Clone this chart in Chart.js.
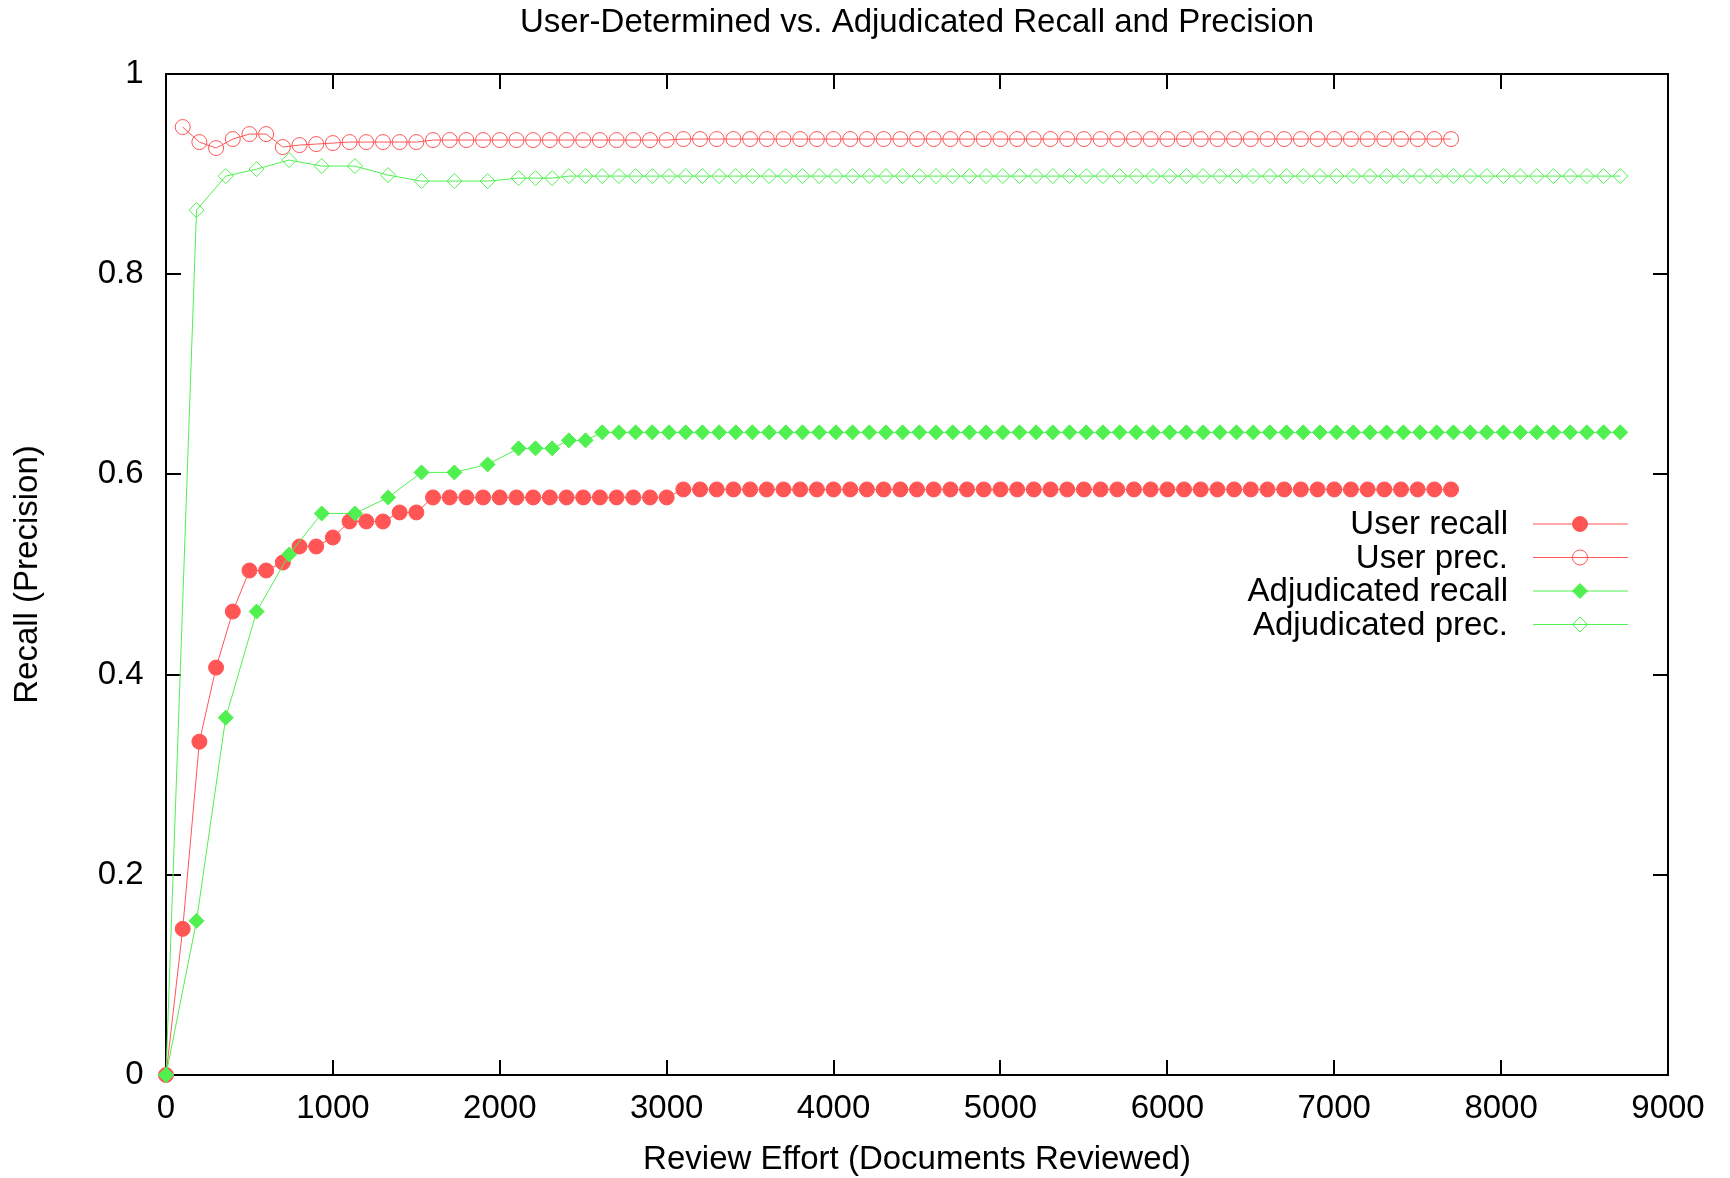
<!DOCTYPE html>
<html>
<head>
<meta charset="utf-8">
<title>User-Determined vs. Adjudicated Recall and Precision</title>
<script src="https://cdn.jsdelivr.net/npm/chart.js@4.4.1/dist/chart.umd.min.js"></script>
<style>
  html, body { margin: 0; padding: 0; background: #fff; }
  canvas { display: block; }
</style>
</head>
<body>
<canvas id="recall-chart" width="1730" height="1178"></canvas>
<script>
// documents reviewed at each user checkpoint
const userX = [
  0, 100, 200, 300, 400, 500, 600, 700, 800, 900,
  1000, 1100, 1200, 1300, 1400, 1500, 1600, 1700, 1800, 1900,
  2000, 2100, 2200, 2300, 2400, 2500, 2600, 2700, 2800, 2900,
  3000, 3100, 3200, 3300, 3400, 3500, 3600, 3700, 3800, 3900,
  4000, 4100, 4200, 4300, 4400, 4500, 4600, 4700, 4800, 4900,
  5000, 5100, 5200, 5300, 5400, 5500, 5600, 5700, 5800, 5900,
  6000, 6100, 6200, 6300, 6400, 6500, 6600, 6700, 6800, 6900,
  7000, 7100, 7200, 7300, 7400, 7500, 7600, 7700
];
const userRecall = [
  0, 0.146, 0.333, 0.407, 0.463, 0.504, 0.504, 0.512, 0.528, 0.528,
  0.537, 0.553, 0.553, 0.553, 0.562, 0.562, 0.577, 0.577, 0.577, 0.577,
  0.577, 0.577, 0.577, 0.577, 0.577, 0.577, 0.577, 0.577, 0.577, 0.577,
  0.577, 0.585, 0.585, 0.585, 0.585, 0.585, 0.585, 0.585, 0.585, 0.585,
  0.585, 0.585, 0.585, 0.585, 0.585, 0.585, 0.585, 0.585, 0.585, 0.585,
  0.585, 0.585, 0.585, 0.585, 0.585, 0.585, 0.585, 0.585, 0.585, 0.585,
  0.585, 0.585, 0.585, 0.585, 0.585, 0.585, 0.585, 0.585, 0.585, 0.585,
  0.585, 0.585, 0.585, 0.585, 0.585, 0.585, 0.585, 0.585
];
// no precision before the first document is reviewed
const userPrec = [
  null, 0.947, 0.932, 0.926, 0.935, 0.940, 0.940, 0.927, 0.929, 0.930,
  0.931, 0.932, 0.932, 0.932, 0.932, 0.932, 0.934, 0.934, 0.934, 0.934,
  0.934, 0.934, 0.934, 0.934, 0.934, 0.934, 0.934, 0.934, 0.934, 0.934,
  0.934, 0.935, 0.935, 0.935, 0.935, 0.935, 0.935, 0.935, 0.935, 0.935,
  0.935, 0.935, 0.935, 0.935, 0.935, 0.935, 0.935, 0.935, 0.935, 0.935,
  0.935, 0.935, 0.935, 0.935, 0.935, 0.935, 0.935, 0.935, 0.935, 0.935,
  0.935, 0.935, 0.935, 0.935, 0.935, 0.935, 0.935, 0.935, 0.935, 0.935,
  0.935, 0.935, 0.935, 0.935, 0.935, 0.935, 0.935, 0.935
];

// documents reviewed at each adjudicated checkpoint
const adjX = [
  0, 183, 358, 543, 738, 933, 1132, 1331, 1531, 1728,
  1927, 2113, 2214, 2314, 2414, 2514, 2614, 2714, 2814, 2914,
  3014, 3114, 3214, 3314, 3414, 3514, 3614, 3714, 3814, 3914,
  4014, 4114, 4214, 4314, 4414, 4514, 4614, 4714, 4814, 4914,
  5014, 5114, 5214, 5314, 5414, 5514, 5614, 5714, 5814, 5914,
  6014, 6114, 6214, 6314, 6414, 6514, 6614, 6714, 6814, 6914,
  7014, 7114, 7214, 7314, 7414, 7514, 7614, 7714, 7814, 7914,
  8014, 8114, 8214, 8314, 8414, 8514, 8614, 8714
];
const adjRecall = [
  0, 0.154, 0.357, 0.463, 0.520, 0.561, 0.561, 0.577, 0.602, 0.602,
  0.610, 0.626, 0.626, 0.626, 0.634, 0.634, 0.642, 0.642, 0.642, 0.642,
  0.642, 0.642, 0.642, 0.642, 0.642, 0.642, 0.642, 0.642, 0.642, 0.642,
  0.642, 0.642, 0.642, 0.642, 0.642, 0.642, 0.642, 0.642, 0.642, 0.642,
  0.642, 0.642, 0.642, 0.642, 0.642, 0.642, 0.642, 0.642, 0.642, 0.642,
  0.642, 0.642, 0.642, 0.642, 0.642, 0.642, 0.642, 0.642, 0.642, 0.642,
  0.642, 0.642, 0.642, 0.642, 0.642, 0.642, 0.642, 0.642, 0.642, 0.642,
  0.642, 0.642, 0.642, 0.642, 0.642, 0.642, 0.642, 0.642
];
const adjPrec = [
  0, 0.864, 0.898, 0.905, 0.914, 0.908, 0.908, 0.899, 0.893, 0.893,
  0.893, 0.896, 0.896, 0.896, 0.898, 0.898, 0.898, 0.898, 0.898, 0.898,
  0.898, 0.898, 0.898, 0.898, 0.898, 0.898, 0.898, 0.898, 0.898, 0.898,
  0.898, 0.898, 0.898, 0.898, 0.898, 0.898, 0.898, 0.898, 0.898, 0.898,
  0.898, 0.898, 0.898, 0.898, 0.898, 0.898, 0.898, 0.898, 0.898, 0.898,
  0.898, 0.898, 0.898, 0.898, 0.898, 0.898, 0.898, 0.898, 0.898, 0.898,
  0.898, 0.898, 0.898, 0.898, 0.898, 0.898, 0.898, 0.898, 0.898, 0.898,
  0.898, 0.898, 0.898, 0.898, 0.898, 0.898, 0.898, 0.898
];

const RED = '#ff5555';
const GREEN = '#50f050';
const FONT = '"Liberation Sans", Arial, Helvetica, sans-serif';
const FONT_SIZE = 33;

function points(xs, ys) {
  return xs.map((x, i) => ({ x: x, y: ys[i] })).filter(p => p.y !== null);
}

function series(label, xs, ys, color, style, filled, order) {
  return {
    label: label,
    data: points(xs, ys),
    borderColor: color,
    borderWidth: 1,
    pointStyle: style,
    pointRadius: 7.5,
    pointBorderWidth: 1,
    pointBorderColor: color,
    pointBackgroundColor: filled ? color : 'transparent',
    tension: 0,
    clip: false,
    order: order,
  };
}

// gnuplot-style key, drawn inside the plot area
const keyInside = {
  id: 'keyInside',
  afterDatasetsDraw(chart) {
    const { ctx, chartArea } = chart;
    const textRight = chartArea.right - 160;
    const lineStart = chartArea.right - 135;
    const lineEnd = chartArea.right - 40;
    const markX = chartArea.right - 88;
    let y = chartArea.top + 450;
    ctx.save();
    ctx.font = FONT_SIZE + 'px ' + FONT;
    ctx.textAlign = 'right';
    ctx.textBaseline = 'middle';
    chart.data.datasets.forEach(ds => {
      ctx.fillStyle = '#000';
      ctx.fillText(ds.label, textRight, y + 1);
      ctx.strokeStyle = ds.borderColor;
      ctx.lineWidth = 1;
      ctx.beginPath();
      ctx.moveTo(lineStart, y);
      ctx.lineTo(lineEnd, y);
      ctx.stroke();
      const r = ds.pointRadius;
      ctx.beginPath();
      if (ds.pointStyle === 'circle') {
        ctx.arc(markX, y, r, 0, Math.PI * 2);
      } else {
        ctx.moveTo(markX - r, y);
        ctx.lineTo(markX, y - r);
        ctx.lineTo(markX + r, y);
        ctx.lineTo(markX, y + r);
        ctx.closePath();
      }
      if (ds.pointBackgroundColor !== 'transparent') {
        ctx.fillStyle = ds.pointBackgroundColor;
        ctx.fill();
      }
      ctx.stroke();
      y += 33.5;
    });
    ctx.restore();
  }
};

// ticks point inward on all four sides of the frame
const frameGrid = {
  display: true,
  drawOnChartArea: false,
  drawTicks: true,
  tickLength: -15,
  color: '#000',
  lineWidth: 2,
};
const frameBorder = { display: true, color: '#000', width: 2 };

const ctx = document.getElementById('recall-chart');

new Chart(ctx, {
  type: 'line',
  data: {
    datasets: [
      series('User recall', userX, userRecall, RED, 'circle', true, 4),
      series('User prec.', userX, userPrec, RED, 'circle', false, 3),
      series('Adjudicated recall', adjX, adjRecall, GREEN, 'rectRot', true, 2),
      series('Adjudicated prec.', adjX, adjPrec, GREEN, 'rectRot', false, 1),
    ]
  },
  options: {
    responsive: false,
    animation: false,
    events: [],
    layout: { padding: { left: 0, right: 62, top: 0, bottom: 0 } },
    plugins: {
      legend: { display: false },
      tooltip: { enabled: false },
      title: {
        display: true,
        fullSize: false,
        text: 'User-Determined vs. Adjudicated Recall and Precision',
        color: '#000',
        font: { family: FONT, size: FONT_SIZE, weight: 'normal', lineHeight: 1 },
        padding: { top: 6, bottom: 35 },
      },
    },
    scales: {
      x: {
        type: 'linear',
        position: 'bottom',
        min: 0,
        max: 9000,
        grid: frameGrid,
        border: frameBorder,
        ticks: {
          stepSize: 1000,
          color: '#000',
          padding: 29,
          maxRotation: 0,
          font: { family: FONT, size: FONT_SIZE },
          callback: v => String(v),
        },
        title: {
          display: true,
          text: 'Review Effort (Documents Reviewed)',
          color: '#000',
          font: { family: FONT, size: FONT_SIZE, lineHeight: 1 },
          padding: { top: 0, bottom: 1.5 },
        },
        afterFit: s => {
          s.height = 103;
          // end labels may hang past the frame
          s.paddingLeft = 0;
          s.paddingRight = 0;
        },
      },
      y: {
        type: 'linear',
        position: 'left',
        min: 0,
        max: 1,
        grid: frameGrid,
        border: frameBorder,
        ticks: {
          stepSize: 0.2,
          color: '#000',
          padding: 37.5,
          font: { family: FONT, size: FONT_SIZE },
          callback: v => String(Math.round(v * 10) / 10),
        },
        title: {
          display: true,
          text: 'Recall (Precision)',
          color: '#000',
          font: { family: FONT, size: FONT_SIZE, lineHeight: 1 },
          padding: { top: 11, bottom: 0 },
        },
        afterFit: s => { s.width = 166; },
      },
      x2: {
        type: 'linear',
        axis: 'x',
        position: 'top',
        min: 0,
        max: 9000,
        grid: frameGrid,
        border: frameBorder,
        ticks: { stepSize: 1000, display: false },
        afterFit: s => { s.height = 0; s.paddingLeft = 0; s.paddingRight = 0; },
      },
      y2: {
        type: 'linear',
        axis: 'y',
        position: 'right',
        min: 0,
        max: 1,
        grid: frameGrid,
        border: frameBorder,
        ticks: { stepSize: 0.2, display: false },
        afterFit: s => { s.width = 0; },
      },
    }
  },
  plugins: [keyInside]
});
</script>
</body>
</html>
